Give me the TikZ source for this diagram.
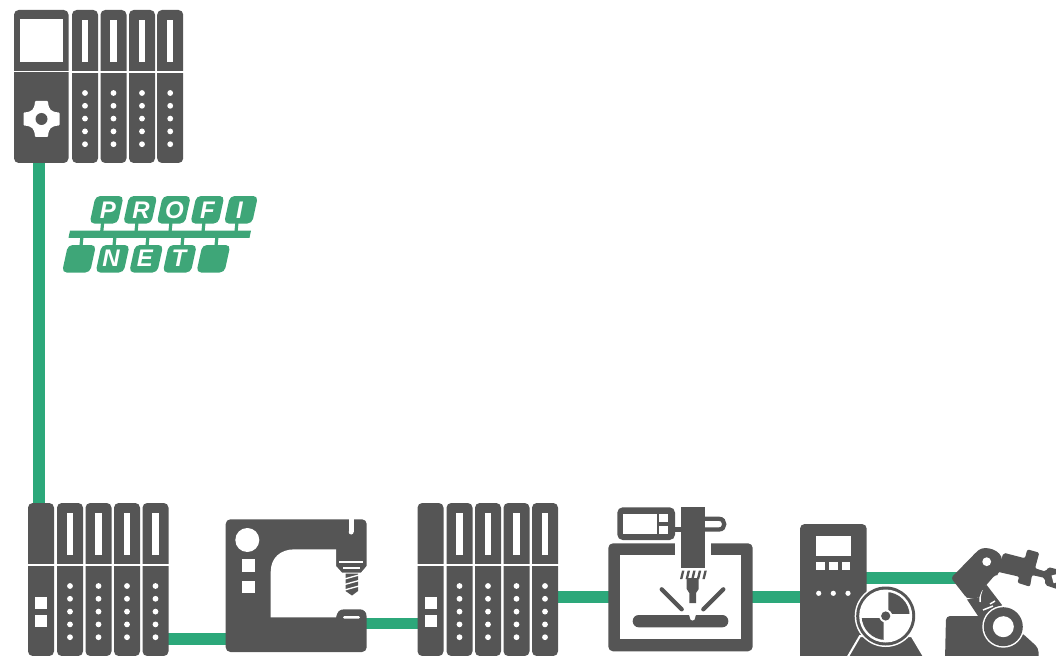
\documentclass[tikz,border=0pt]{standalone}
\usepackage{fontspec}
\setmainfont{Liberation Sans}
\definecolor{devgrey}{RGB}{85,85,85}
\definecolor{linkgreen}{RGB}{44,168,122}
\definecolor{logogreen}{RGB}{62,166,120}
\tikzset{
  link/.style={draw=linkgreen,line width=8.4pt},
  dev/.style={fill=devgrey},
  hole/.style={fill=white},
  modbox/.style={fill=devgrey,rounded corners=3.5pt},
  cutline/.style={draw=white,line width=1.2pt},
  logobox/.style={fill=logogreen,rounded corners=3.5pt},
  logobar/.style={draw=logogreen,line width=2.4pt},
  logoletter/.style={text=white,font=\fontsize{18}{19}\selectfont\bfseries\itshape,inner sep=0pt}
}
\newcommand\ioslice[1]{%
  \fill[modbox] (#1,0) rectangle ++(26,153);
  \draw[cutline] (#1-1,62) -- ++(28,0);
  \fill[hole] (#1+9.8,10) rectangle ++(6.4,42);
  \foreach \yy in {83,95.8,108.6,121.4,134.2}{\fill[hole] (#1+13,\yy) circle (2.9);}
}
\newcommand\logobox[2]{%
  \fill[logobox] (#1,#2+27.5) -- (#1+6,#2) -- (#1+34,#2) -- (#1+28,#2+27.5) -- cycle;
}
\begin{document}
\begin{tikzpicture}[x=0.75pt,y=-0.75pt]
\useasboundingbox (0,0) rectangle (1056,656);
\clip (0,0) rectangle (1056,656);
% connector ends
\coordinate (plcDown) at (39,160);
\coordinate (rackATop) at (39,506);
\coordinate (rackARight) at (165,639);
\coordinate (sewLeft) at (230,639);
\coordinate (sewRight) at (362,623.5);
\coordinate (rackBLeft) at (420,623.5);
\coordinate (rackBRight) at (555,597);
\coordinate (cncLeft) at (612,597);
\coordinate (cncRight) at (749,597);
\coordinate (driveLeft) at (804,597);
\coordinate (driveRight) at (862,578);
\coordinate (robotLeft) at (958,578);
\draw[link] (plcDown) -- (rackATop);
\draw[link] (rackARight) -- (sewLeft);
\draw[link] (sewRight) -- (rackBLeft);
\draw[link] (rackBRight) -- (cncLeft);
\draw[link] (cncRight) -- (driveLeft);
\draw[link] (driveRight) -- (robotLeft);

% top controller rack
\begin{scope}[shift={(0,10)}]
  \fill[modbox] (14,0) rectangle (68.5,153);
  \draw[cutline] (13,61.7) -- (70,61.7);
  \fill[hole] (20.3,9.3) rectangle (63,52);
  \begin{scope}[shift={(41.5,109)}]
    \filldraw[fill=white,draw=white,line width=1.5pt,line join=round] (-5.5,-17) -- (5.5,-17) .. controls (6.5,-8.5) and (8.5,-6.5) .. (17,-5.5) -- (17,5.5)
      .. controls (8.5,6.5) and (6.5,8.5) .. (5.5,17) -- (-5.5,17)
      .. controls (-6.5,8.5) and (-8.5,6.5) .. (-17,5.5) -- (-17,-5.5)
      .. controls (-8.5,-6.5) and (-6.5,-8.5) .. (-5.5,-17) -- cycle;
    \fill[dev] (0,0) circle (6);
  \end{scope}
  \ioslice{72}\ioslice{100.5}\ioslice{129}\ioslice{157.2}
\end{scope}

% PROFINET logo
\foreach \sx in {102.7,137,171,204,237}{\draw[logobar] (\sx,222) -- (\sx-1,232);}
\foreach \sx in {82,115,148,183,217}{\draw[logobar] (\sx,236) -- (\sx-1,246);}
\fill[logogreen] (68.5,237.8) -- (70,230.6) -- (251,230.6) -- (249.5,237.8) -- cycle;
\foreach \lx in {0,1,2,3,4}{\logobox{89.6+33.6*\lx}{196}}
\foreach \lx in {0,1,2,3,4}{\logobox{62+33.6*\lx}{245}}
\node[logoletter] (lP) at (108,210) {P};
\node[logoletter] (lR) at (141,210) {R};
\node[logoletter] (lO) at (174.5,210) {O};
\node[logoletter] (lF) at (207.5,210) {F};
\node[logoletter] (lI) at (239.5,210) {I};
\node[logoletter] (lN) at (111,258.5) {N};
\node[logoletter] (lE) at (145,258.5) {E};
\node[logoletter] (lT) at (179,258.5) {T};

% lower rack A
\begin{scope}[shift={(0,503)}]
  \fill[modbox] (28,0) rectangle ++(26,153);
  \draw[cutline] (27,62) -- (55,62);
  \fill[hole] (35,94) rectangle ++(12,11.5);
  \fill[hole] (35,112) rectangle ++(12,12);
  \ioslice{57}\ioslice{85.5}\ioslice{114}\ioslice{142.5}
\end{scope}
% lower rack B
\begin{scope}[shift={(389.5,503)}]
  \fill[modbox] (28,0) rectangle ++(26,153);
  \draw[cutline] (27,62) -- (55,62);
  \fill[hole] (35,94) rectangle ++(12,11.5);
  \fill[hole] (35,112) rectangle ++(12,12);
  \ioslice{57}\ioslice{85.5}\ioslice{114}\ioslice{142.5}
\end{scope}

% sewing machine
\fill[modbox] (225.7,519.3) rectangle (366.7,652);
\fill[hole] (348.7,518) rectangle (353.7,532);
\fill[hole] (351.2,532) circle (2.5);
\fill[hole] (336,549.3) -- (295,549.3)
  .. controls (280,549.3) and (270.7,558) .. (270.7,572) -- (270.7,617.3) -- (336,617.3)
  .. controls (337,612) and (339,609.3) .. (344,609.3) -- (360,609.3) .. controls (364,609.3) and (366.7,612) .. (366.7,616)
  -- (370,616) -- (370,566) -- (366.7,566) -- (361,572.7) -- (342,572.7) -- (336,566) -- cycle;
\fill[hole] (247.3,540) circle (12);
\fill[hole] (241.7,559.3) rectangle (254.7,571.7);
\fill[hole] (241.7,580.7) rectangle (254.7,592.7);
\fill[hole,rounded corners=1pt] (343,616) rectangle (360,618.6);
\fill[hole] (339,560.7) rectangle (362.7,562.7);
\fill[hole] (342.7,567.3) rectangle (360,569.3);
\fill[dev] (345.5,573.5) -- (358,573.5) -- (358,591) -- (352,595.5) -- (345.5,591) -- cycle;
\foreach \dy in {576.5,582,587.5}{\draw[white,line width=1pt] (344.5,\dy+2.5) -- (359,\dy-1.5);}

% CNC machine
\fill[modbox] (608.3,543.3) rectangle (752.7,651.3);
\fill[hole] (620,555.3) rectangle (740.7,639);
\fill[hole] (675,541) rectangle (710.7,556);
\fill[dev] (680.7,507.3) rectangle (704.7,567.7);
\fill[dev,rounded corners=4pt] (617.3,507.3) rectangle (675,540);
\fill[dev] (672,527) rectangle (682,532);
\fill[hole] (623.3,514) rectangle (656.7,534);
\fill[hole] (659.3,514) rectangle (668.3,521.7);
\fill[hole] (659.3,526) rectangle (668.3,534);
\draw[devgrey,line width=3.2pt] (704,518.8) -- (719,518.8) .. controls (726,518.8) and (726,529.5) .. (719,529.5) -- (704,529.5);
\foreach \sx in {0,1,2,3,4}{\fill[dev] (680+\sx*5.6+2,570.7) -- (680+\sx*5.6+4.4,570.7) -- (680+\sx*5.6+2.4,579) -- (680+\sx*5.6,579) -- cycle;}
\fill[dev] (686.7,578) -- (698.7,578) -- (698.7,589) -- (696,593) -- (696,603) -- (689.3,603) -- (689.3,593) -- (686.7,589) -- cycle;
\draw[devgrey,line width=3.2pt,line cap=round] (661.7,589.3) -- (681.7,609.3);
\draw[devgrey,line width=3.2pt,line cap=round] (723.3,589.3) -- (703.3,609.3);
\fill[dev,rounded corners=4.5pt] (632.7,615) rectangle (728.3,627.3);
\fill[white] (689,614.5) -- (696,614.5) -- (694.5,619.5) -- (692.5,620.5) -- (690.5,619.5) -- cycle;

% drive with wheel
\fill[dev,rounded corners=3.5pt] (800,524) -- (866.7,524) -- (866.7,670) -- (800,670) -- cycle;
\fill[hole] (816,536) rectangle (850.7,555.7);
\fill[hole] (816,561.7) rectangle (825,570);
\fill[hole] (829,561.7) rectangle (837.7,570);
\fill[hole] (841.7,561.7) rectangle (850.3,570);
\foreach \dx in {818.7,833.3,848}{\fill[hole] (\dx,593.3) circle (2.6);}
\filldraw[fill=devgrey,draw=white,line width=1.5pt] (860,636) -- (846,660) -- (926,660) -- (911.7,636) -- cycle;
\fill[white] (885.7,616) circle (31);
\fill[dev] (885.7,616) circle (29.5);
\fill[white] (885.7,616) circle (26.5);
\begin{scope}
  \clip (888.3,588) rectangle (915,613.5);
  \fill[dev] (885.7,616) circle (24);
\end{scope}
\begin{scope}
  \clip (857,618) rectangle (883.5,644);
  \fill[dev] (885.7,616) circle (24);
\end{scope}
\fill[white] (885.7,616) circle (6.5);
\fill[dev] (885.7,616) circle (4.6);

% robot
\fill[dev,rounded corners=3pt] (946,616) -- (985,616) -- (1022,633) -- (1038.5,648) -- (1038.5,660) -- (945,660) -- cycle;
\fill[dev] (966,598) -- (986.7,585) -- (1002,605) -- (990,622) -- (978,616) -- cycle;
\draw[white,line width=1.1pt] (966,599) .. controls (972,597) and (976,597) .. (978,597);
\draw[white,line width=1.1pt] (982,590) .. controls (980,595) and (980,598) .. (980,602);
\draw[white,line width=1.1pt] (990,604) -- (995,601);
\draw[white,line width=1.1pt] (983,610) -- (993,606);
\fill[dev,rounded corners=2pt] (951,578) -- (976.7,551.7) .. controls (985,545) and (1002,550) .. (1002,563) .. controls (1002,570) and (996,575) .. (995,575) -- (982,590) -- (979,598) -- (966.7,598) -- cycle;
\fill[hole] (986.7,561.7) circle (4.4);
\fill[dev,rounded corners=1.5pt] (1003.5,552.7) -- (1025,558.3) -- (1027.3,549.3) -- (1039.3,552.7) -- (1035,568.3)
  -- (1046,571.7) -- (1048,567) -- (1060,570) -- (1060,590) -- (1045,585) -- (1045,578) -- (1032,575) -- (1030,586.7) -- (1017.3,582.7) -- (1019.3,576.7) -- (997.3,571.7) -- cycle;
\fill[hole,rotate around={15:(1054,579)}] (1052.5,575) rectangle (1060,583);
\fill[white] (1003.3,626.7) circle (21);
\fill[dev] (1003.3,626.7) circle (19.5);
\fill[white] (1003.3,626.7) circle (10.5);
\end{tikzpicture}
\end{document}
